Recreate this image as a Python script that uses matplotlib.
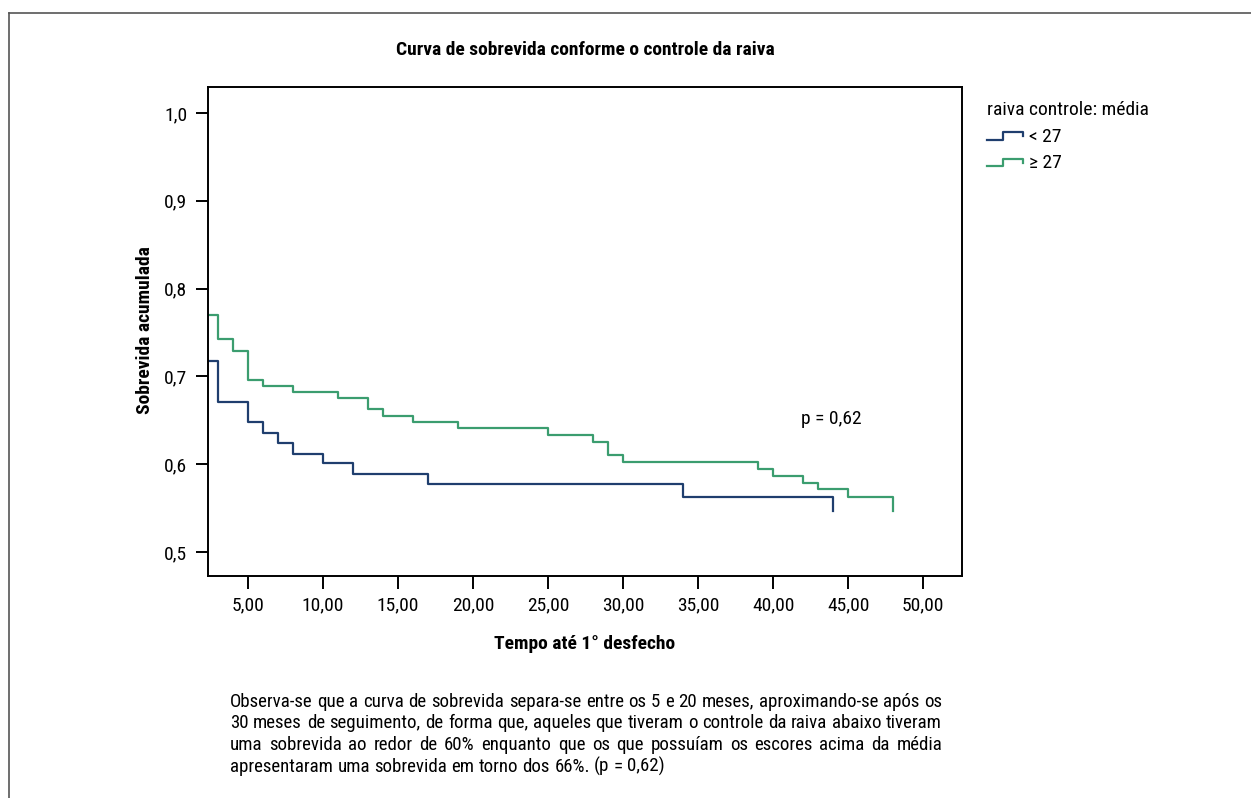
import matplotlib
matplotlib.use("Agg")
import matplotlib.pyplot as plt
from matplotlib.lines import Line2D
from matplotlib.legend_handler import HandlerBase
from matplotlib import font_manager as fm

# ---------------- data ----------------
title = "Curva de sobrevida conforme o controle da raiva"
xlabel = "Tempo até 1° desfecho"
ylabel = "Sobrevida acumulada"
legend_title = "raiva controle: média"
group_labels = ["< 27", "≥ 27"]

time_lt27 = [0, 3, 5, 6, 7, 8, 10, 12, 17, 34, 44]
surv_lt27 = [0.717, 0.671, 0.648, 0.636, 0.624, 0.612, 0.601, 0.589, 0.578, 0.563, 0.547]

time_ge27 = [0, 3, 4, 5, 6, 8, 11, 13, 14, 16, 19, 25, 28, 29, 30, 39, 40, 42, 43, 45, 48]
surv_ge27 = [0.770, 0.743, 0.729, 0.696, 0.689, 0.682, 0.675, 0.663, 0.655, 0.648, 0.641,
             0.633, 0.625, 0.610, 0.603, 0.595, 0.587, 0.579, 0.572, 0.563, 0.547]

xticks = [5, 10, 15, 20, 25, 30, 35, 40, 45, 50]
xticklabels = ["5,00", "10,00", "15,00", "20,00", "25,00", "30,00", "35,00", "40,00", "45,00", "50,00"]
yticks = [0.5, 0.6, 0.7, 0.8, 0.9, 1.0]
yticklabels = ["0,5", "0,6", "0,7", "0,8", "0,9", "1,0"]

p_text = "p = 0,62"
p_pos = (43.9, 0.652)

paragraph = [
    "Observa-se que a curva de sobrevida separa-se entre os 5 e 20 meses, aproximando-se após os",
    "30 meses de seguimento, de forma que, aqueles que tiveram o controle da raiva abaixo tiveram",
    "uma sobrevida ao redor de 60% enquanto que os que possuíam os escores acima da média",
    "apresentaram uma sobrevida em torno dos 66%. (p = 0,62)",
]

# ---------------- fonts ----------------
available = {f.name for f in fm.fontManager.ttflist}
narrow = None
for cand in ["Liberation Sans Narrow", "Arial Narrow", "Nimbus Sans Narrow",
             "Roboto Condensed", "Open Sans Condensed"]:
    if cand in available:
        narrow = cand
        break
if narrow:
    FONT = [narrow, "Liberation Sans", "DejaVu Sans"]
    FS = 14
    PFS = 13.6
else:
    FONT = ["Liberation Sans", "DejaVu Sans"]
    FS = 12
    PFS = 11.2
plt.rcParams["font.family"] = FONT

C_BLUE = "#1f3e6e"
C_GREEN = "#3b9d6f"

W, H = 1251, 798
fig = plt.figure(figsize=(W / 100, H / 100), dpi=100)
ax = fig.add_axes([208 / W, 1 - 576 / H, (962 - 208) / W, (576 - 87) / H])

l1, = ax.step(time_lt27, surv_lt27, where="post", color=C_BLUE, lw=1.6)
l2, = ax.step(time_ge27, surv_ge27, where="post", color=C_GREEN, lw=1.6)

ax.set_xlim(2.33, 52.58)
ax.set_ylim(0.4727, 1.0296)
ax.set_xticks(xticks)
ax.set_xticklabels(xticklabels)
ax.set_yticks(yticks)
ax.set_yticklabels(yticklabels)
ax.tick_params(axis="both", direction="out", length=9, width=1.4, labelsize=FS, pad=6, color="black")
for s in ax.spines.values():
    s.set_linewidth(1.4)

ax.text(p_pos[0], p_pos[1], p_text, ha="center", va="center", fontsize=FS)

fig.text(585 / W, 1 - 50 / H, title, ha="center", va="center", fontsize=FS, fontweight="bold")
fig.text(585 / W, 1 - 644 / H, xlabel, ha="center", va="center", fontsize=FS, fontweight="bold")
fig.text(145 / W, 1 - 330 / H, ylabel, ha="center", va="center", fontsize=FS, fontweight="bold",
         rotation=90)


class StepHandler(HandlerBase):
    def create_artists(self, legend, orig_handle, xdescent, ydescent, width, height, fontsize, trans):
        x0 = -xdescent
        y0 = -ydescent
        xs = [x0, x0 + 0.45 * width, x0 + 0.45 * width, x0 + width, x0 + width]
        ys = [y0 + 0.16 * height, y0 + 0.16 * height, y0 + 0.71 * height, y0 + 0.71 * height,
              y0 + 0.44 * height]
        ln = Line2D(xs, ys, color=orig_handle.get_color(), lw=1.6, transform=trans)
        return [ln]


leg = fig.legend([l1, l2], group_labels, title=legend_title,
                 handler_map={l1: StepHandler(), l2: StepHandler()},
                 loc="upper left", bbox_to_anchor=(987 / W, 1 - 101 / H),
                 frameon=False, fontsize=FS, title_fontsize=FS, alignment="left",
                 borderpad=0, handlelength=1.85, handletextpad=0.3, labelspacing=0.45,
                 borderaxespad=0)

# outer frame lines
fig.add_artist(Line2D([9.3 / W, 9.3 / W], [0, 1 - 12.7 / H], transform=fig.transFigure,
                      color="#555555", lw=1.2))
fig.add_artist(Line2D([9.3 / W, 1], [1 - 12.7 / H, 1 - 12.7 / H], transform=fig.transFigure,
                      color="#555555", lw=1.2))

# justified paragraph
left_px, right_px = 230, 942
base_y = [706.7, 728.3, 750.0, 771.7]
renderer = fig.canvas.get_renderer()
probe_a = fig.text(0, 0, "a", fontsize=PFS)
probe_aa = fig.text(0, 0, "a a", fontsize=PFS)
space_w = probe_aa.get_window_extent(renderer).width - 2 * probe_a.get_window_extent(renderer).width
probe_a.remove()
probe_aa.remove()
for i, line in enumerate(paragraph):
    words = line.split(" ")
    texts = [fig.text(0, 1 - base_y[i] / H, w, ha="left", va="baseline", fontsize=PFS) for w in words]
    widths = [t.get_window_extent(renderer).width for t in texts]
    if i < len(paragraph) - 1:
        gap = (right_px - left_px - sum(widths)) / (len(words) - 1)
    else:
        gap = space_w
    x = left_px
    for t, w in zip(texts, widths):
        t.set_x(x / W)
        x += w + gap

fig.savefig("out.png", dpi=100)
